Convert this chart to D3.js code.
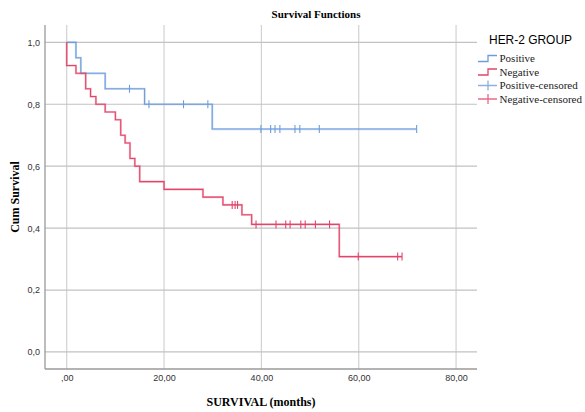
<!DOCTYPE html>
<html>
<head>
<meta charset="utf-8">
<script src="https://cdn.jsdelivr.net/npm/d3@7"></script>
<style>
  body { margin: 0; background: #fff; }
  svg { display: block; }
</style>
</head>
<body>
<div id="chart"></div>
<script>
// Kaplan-Meier steps
var posTimes = [0, 1.9, 2.9, 7.9, 16.0, 29.9, 71.9];
var posSurv = [1, 0.95, 0.9, 0.85, 0.8, 0.72, 0.72];
var posCensor = [12.9, 16.9, 24.0, 29.0, 39.9, 41.9, 42.8, 43.8, 46.9, 47.9, 51.9, 71.9];

var negTimes = [0, 0, 1.9, 3.9, 4.9, 6.0, 7.9, 10.0, 11.1, 12.0, 13.0, 14.0, 15.0, 20.0, 28.0, 32.1, 36.0, 38.0, 56.0, 68.9];
var negSurv = [1, 0.925, 0.9, 0.85, 0.825, 0.8, 0.775, 0.75, 0.7, 0.675, 0.625, 0.6, 0.55, 0.525, 0.5, 0.475, 0.443, 0.412, 0.308, 0.308];
var negCensor = [34.0, 34.6, 35.1, 38.9, 43.0, 45.0, 45.9, 48.1, 49.0, 51.1, 54.0, 59.9, 68.0, 68.9];

var xTicks = [0, 20, 40, 60, 80];
var yTicks = [0, 0.2, 0.4, 0.6, 0.8, 1.0];
var legendLabels = ["Positive", "Negative", "Positive-censored", "Negative-censored"];

var width = 585, height = 412;
var pLeft = 45, pRight = 477, pTop = 25, pBottom = 369;
var blue = "#6d9edb", red = "#e2456a";

var svg = d3.select("#chart").append("svg").attr("width", width).attr("height", height);

var x = d3.scaleLinear().domain([-4.46, 84.3]).range([pLeft, pRight]);
var y = d3.scaleLinear().domain([-0.055, 1.056]).range([pBottom, pTop]);

// grid
svg.append("g").selectAll("line").data(xTicks).enter().append("line")
    .attr("x1", function (d) { return x(d) }).attr("x2", function (d) { return x(d) })
    .attr("y1", pTop).attr("y2", pBottom)
    .attr("stroke", "#d2d2d2").attr("stroke-width", 1.2);
svg.append("g").selectAll("line").data(yTicks).enter().append("line")
    .attr("y1", function (d) { return y(d) }).attr("y2", function (d) { return y(d) })
    .attr("x1", pLeft).attr("x2", pRight)
    .attr("stroke", "#c2c2c2").attr("stroke-width", 1.2);

// axes
var xAxis = d3.axisBottom(x).tickValues(xTicks).tickSize(0).tickPadding(6)
    .tickFormat(function (d) { return d === 0 ? ",00" : d3.format(".2f")(d).replace(".", ",") });
var yAxis = d3.axisLeft(y).tickValues(yTicks).tickSize(0).tickPadding(5)
    .tickFormat(function (d) { return d3.format(".1f")(d).replace(".", ",") });

var gx = svg.append("g").attr("transform", "translate(0," + pBottom + ")").call(xAxis);
var gy = svg.append("g").attr("transform", "translate(" + pLeft + ",0)").call(yAxis);
[gx, gy].forEach(function (g) {
    g.select(".domain").attr("stroke", "#9a9a9a").attr("stroke-width", 1.3);
    g.selectAll("text").attr("font-family", "Liberation Sans, Arial, sans-serif")
        .attr("font-size", 9).attr("fill", "#333");
});
gy.select(".domain").attr("d", "M0," + pTop + "V" + pBottom);
gx.select(".domain").attr("d", "M" + pLeft + ",0H" + pRight);

// curves
var line = d3.line().curve(d3.curveStepAfter)
    .x(function (d) { return x(d[0]) }).y(function (d) { return y(d[1]) });

function survAt(times, surv, t) {
    var s = surv[0];
    for (var i = 0; i < times.length; i++) if (times[i] <= t) s = surv[i];
    return s;
}

function drawGroup(times, surv, censor, color) {
    var pts = times.map(function (t, i) { return [t, surv[i]] });
    svg.append("path").datum(pts).attr("d", line)
        .attr("fill", "none").attr("stroke", color).attr("stroke-width", 2.2).attr("opacity", 0.35);
    svg.append("path").datum(pts).attr("d", line)
        .attr("fill", "none").attr("stroke", color).attr("stroke-width", 1.1);
    svg.append("g").selectAll("line").data(censor).enter().append("line")
        .attr("x1", function (d) { return x(d) }).attr("x2", function (d) { return x(d) })
        .attr("y1", function (d) { return y(survAt(times, surv, d)) - 4 })
        .attr("y2", function (d) { return y(survAt(times, surv, d)) + 4 })
        .attr("stroke", color).attr("stroke-width", 1.1);
}

drawGroup(posTimes, posSurv, posCensor, blue);
drawGroup(negTimes, negSurv, negCensor, red);

// titles
svg.append("text").attr("x", 316).attr("y", 18).attr("text-anchor", "middle")
    .attr("font-family", "Liberation Serif, Times New Roman, serif").attr("font-weight", "bold")
    .attr("font-size", 11).text("Survival Functions");
svg.append("text").attr("x", (pLeft + pRight) / 2).attr("y", 406).attr("text-anchor", "middle")
    .attr("font-family", "Liberation Serif, Times New Roman, serif").attr("font-weight", "bold")
    .attr("font-size", 12).text("SURVIVAL (months)");
svg.append("text").attr("transform", "translate(19," + ((pTop + pBottom) / 2) + ")rotate(-90)")
    .attr("text-anchor", "middle")
    .attr("font-family", "Liberation Serif, Times New Roman, serif").attr("font-weight", "bold")
    .attr("font-size", 12).text("Cum Survival");

// legend
var lg = svg.append("g");
lg.append("text").attr("x", 489).attr("y", 44)
    .attr("font-family", "Liberation Sans, Arial, sans-serif").attr("font-size", 13)
    .attr("textLength", 83).attr("lengthAdjust", "spacingAndGlyphs")
    .text("HER-2 GROUP");
var rowY = [58.5, 72, 85.5, 99];
var colors = [blue, red, blue, red];
legendLabels.forEach(function (lab, i) {
    var cy = rowY[i];
    if (i < 2) {
        lg.append("path").attr("d", "M478," + (cy + 3) + "H488V" + (cy - 3) + "H497")
            .attr("fill", "none").attr("stroke", colors[i]).attr("stroke-width", 1.3);
    } else {
        lg.append("path").attr("d", "M478," + cy + "H497M488," + (cy - 5) + "V" + (cy + 5))
            .attr("fill", "none").attr("stroke", colors[i]).attr("stroke-width", 1.3).attr("opacity", 0.8);
    }
    lg.append("text").attr("x", 499.5).attr("y", cy + 3.5)
        .attr("font-family", "Liberation Serif, Times New Roman, serif").attr("font-size", 11)
        .attr("fill", "#222").text(lab);
});
</script>
</body>
</html>
